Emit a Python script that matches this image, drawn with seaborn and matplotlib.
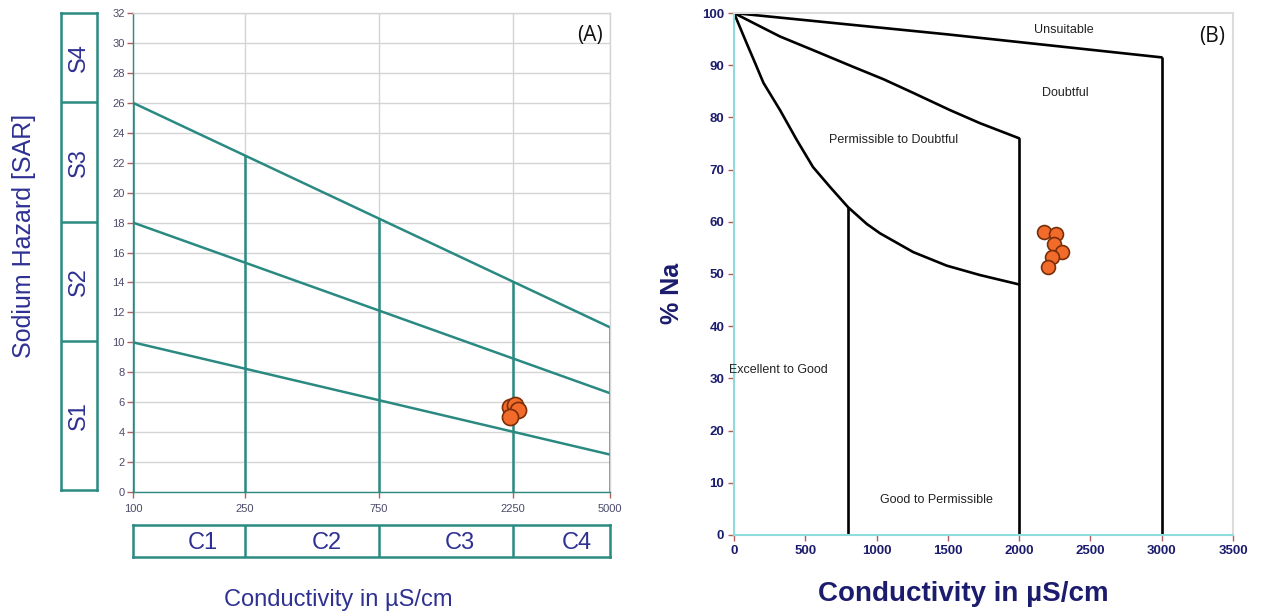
import numpy as np
import pandas as pd
import matplotlib
matplotlib.use('Agg')
import matplotlib.pyplot as plt
import seaborn as sns

sns.set_theme(style='white')
plt.rcParams['font.family'] = ['Liberation Sans', 'DejaVu Sans']

TEAL = '#2a8a82'
NAVY = '#2e3192'
DNAVY = '#1c1c6e'
TICKRED = '#b06060'
ORANGE = '#f26b2a'
EDGE = '#7a2e0a'

# ---- (A) USSL / Richards diagram ----
ec_ticks = [100, 250, 750, 2250, 5000]
sar_ticks = list(range(0, 33, 2))
line_ec = [100, 5000]
sar_upper = [26, 11]
sar_mid = [18, 6.6]
sar_low = [10, 2.5]
s_bounds = [0, 10, 18, 26, 32]
s_labels = ['S1', 'S2', 'S3', 'S4']
c_labels = ['C1', 'C2', 'C3', 'C4']
c_label_x = [177, 490, 1460, 3800]
ec_a = [2196, 2288, 2345, 2196]
sar_a = [5.68, 5.81, 5.48, 5.01]

# ---- (B) Wilcox diagram ----
unsuit_x = [0, 1500, 3000]
unsuit_y = [100, 95.9, 91.5]
doubt_x = [0, 150, 323, 554, 835, 1050, 1257, 1515, 1725, 2000]
doubt_y = [100, 97.9, 95.5, 92.9, 89.7, 87.3, 84.7, 81.4, 78.9, 76]
perm_x = [0, 40, 89, 150, 207, 323, 440, 554, 673, 800, 931, 1024, 1257, 1492, 1725, 2000]
perm_y = [100, 97.4, 94.2, 90.3, 86.6, 81.4, 75.7, 70.5, 66.7, 62.8, 59.6, 57.8, 54.2, 51.6, 49.8, 48]
vert_x = [800, 2000, 3000]
vert_top = [62.8, 76, 91.5]
ec_b = [2174, 2259, 2245, 2301, 2231, 2202]
na_b = [58.0, 57.6, 55.7, 54.2, 53.3, 51.3]
zones = ['Unsuitable', 'Doubtful', 'Permissible to Doubtful', 'Excellent to Good', 'Good to Permissible']
zone_x = [2315, 2322, 1122, 309, 1417]
zone_y = [96.7, 84.7, 75.7, 31.6, 6.7]

fig = plt.figure(figsize=(12.62, 6.14), dpi=100)
ax = fig.add_axes([0.1054, 0.1987, 0.378, 0.7801])
ax_s = fig.add_axes([0.0483, 0.2020, 0.0285, 0.7768])
ax_c = fig.add_axes([0.1054, 0.0928, 0.378, 0.0521])
bx = fig.add_axes([0.5816, 0.1287, 0.3954, 0.8501])

# panel A
ax.set_xscale('log')
ax.set_xlim(100, 5000)
ax.set_ylim(0, 32)
ax.set_xticks(ec_ticks)
ax.set_xticklabels([str(t) for t in ec_ticks])
ax.minorticks_off()
ax.set_yticks(sar_ticks)
ax.grid(True, color='#d4d4d4', linewidth=1)
for name, sp in ax.spines.items():
    sp.set_color('#d4d4d4' if name in ('top', 'right') else TEAL)
    sp.set_linewidth(1)
ax.tick_params(axis='both', which='major', direction='out', length=4, width=1,
               color=TICKRED, labelsize=8, labelcolor='#4a4a6a', pad=2)
ax.tick_params(axis='x', pad=5)
ax.tick_params(axis='both', bottom=True, left=True)

lines_df = pd.DataFrame({
    'ec': line_ec * 3,
    'sar': sar_upper + sar_mid + sar_low,
    'grp': ['u', 'u', 'm', 'm', 'l', 'l'],
})
sns.lineplot(data=lines_df, x='ec', y='sar', units='grp', estimator=None,
             color=TEAL, linewidth=1.8, ax=ax, legend=False)
log_ec = np.log10(ec_ticks)
tops = np.interp(log_ec, np.log10(line_ec), sar_upper)
ax.vlines(ec_ticks, 0, tops, color=TEAL, linewidth=1.8)
sns.scatterplot(x=ec_a, y=sar_a, s=135, color=ORANGE, edgecolor=EDGE,
                linewidth=1.2, ax=ax, zorder=5)
ax.set_xlabel('')
ax.set_ylabel('')
ax.text(0.985, 0.975, '(A)', transform=ax.transAxes, ha='right', va='top',
        fontsize=15, color='#111111', family=['Open Sans', 'DejaVu Sans'])

# S class boxes
ax_s.set_ylim(0, 32)
ax_s.set_xlim(0, 1)
ax_s.set_xticks([])
ax_s.set_yticks([])
for sp in ax_s.spines.values():
    sp.set_color(TEAL)
    sp.set_linewidth(1.8)
for b in s_bounds[1:-1]:
    ax_s.axhline(b, color=TEAL, linewidth=1.8)
for i, lab in enumerate(s_labels):
    ax_s.text(0.5, (s_bounds[i] + s_bounds[i + 1]) / 2, lab, rotation=90,
              ha='center', va='center', fontsize=17, color=NAVY)
fig.text(0.019, 0.615, 'Sodium Hazard [SAR]', rotation=90, ha='center',
         va='center', fontsize=18, color=NAVY)

# C class boxes
ax_c.set_xscale('log')
ax_c.set_xlim(100, 5000)
ax_c.set_ylim(0, 1)
ax_c.minorticks_off()
ax_c.set_xticks([])
ax_c.set_yticks([])
for sp in ax_c.spines.values():
    sp.set_color(TEAL)
    sp.set_linewidth(1.8)
ax_c.vlines(ec_ticks[1:-1], 0, 1, color=TEAL, linewidth=1.8)
for xl, lab in zip(c_label_x, c_labels):
    ax_c.text(xl, 0.45, lab, ha='center', va='center', fontsize=17, color=NAVY)
fig.text(0.268, 0.022, 'Conductivity in \u00b5S/cm', ha='center', va='center',
         fontsize=17, color=NAVY)

# panel B
bx.set_xlim(0, 3500)
bx.set_ylim(0, 100)
bx.set_xticks(range(0, 3501, 500))
bx.set_yticks(range(0, 101, 10))
for name, sp in bx.spines.items():
    sp.set_color('#dcdcdc' if name in ('top', 'right') else '#8fdcdc')
    sp.set_linewidth(1.5)
bx.tick_params(axis='both', direction='out', length=4, width=1, color=TICKRED,
               labelsize=9.5, labelcolor=DNAVY, pad=3)
bx.tick_params(axis='both', bottom=True, left=True)
for lab in bx.get_xticklabels() + bx.get_yticklabels():
    lab.set_fontweight('bold')

curves = pd.DataFrame({
    'ec': unsuit_x + doubt_x + perm_x,
    'na': unsuit_y + doubt_y + perm_y,
    'grp': ['u'] * len(unsuit_x) + ['d'] * len(doubt_x) + ['p'] * len(perm_x),
})
sns.lineplot(data=curves, x='ec', y='na', units='grp', estimator=None, sort=False,
             color='black', linewidth=1.9, ax=bx, legend=False)
bx.vlines(vert_x, 0, vert_top, color='black', linewidth=1.9)
sns.scatterplot(x=ec_b, y=na_b, s=100, color=ORANGE, edgecolor=EDGE,
                linewidth=1.2, ax=bx, zorder=5)
for t, zx, zy in zip(zones, zone_x, zone_y):
    bx.text(zx, zy, t, ha='center', va='center', fontsize=9, color='#222222')
bx.text(0.985, 0.975, '(B)', transform=bx.transAxes, ha='right', va='top',
        fontsize=15, color='#111111', family=['Open Sans', 'DejaVu Sans'])
bx.set_xlabel('Conductivity in \u00b5S/cm', fontsize=20, fontweight='bold',
              color=DNAVY)
bx.set_ylabel('% Na', fontsize=18, fontweight='bold', color=DNAVY)
bx.xaxis.set_label_coords(0.459, -0.088)
bx.yaxis.set_label_coords(-0.10, 0.462)

plt.savefig('out.png', dpi=100)
